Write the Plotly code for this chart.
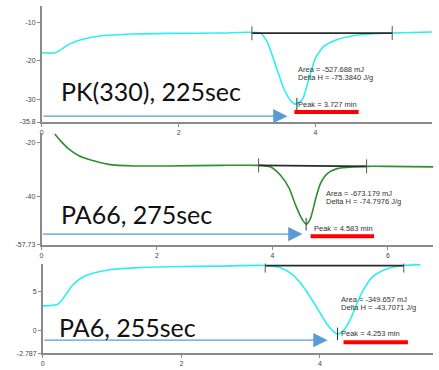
import plotly.graph_objects as go

# ---------------- data ----------------
# Panel 1: PK(330), 225sec  (time in min, heat flow)
t1 = [0.0, 0.2, 0.39, 0.58, 0.87, 1.35, 1.85, 2.62, 3.2, 3.30, 3.42, 3.54, 3.64, 3.71, 3.81, 3.90,
      4.0, 4.12, 4.31, 4.55, 4.80, 5.12, 5.70]
v1 = [-17.9, -17.9, -15.8, -14.5, -13.5, -13.06, -12.9, -12.8, -12.88, -15.36, -21.36, -27.34, -30.34,
      -31.18, -29.9, -24.77, -19.21, -16.24, -14.52, -13.49, -13.06, -12.8, -12.54]
base1_t = [3.07, 5.12]
base1_v = [-12.85, -12.8]

# Panel 2: PA66, 275sec
t2 = [0.23, 0.35, 0.47, 0.64, 0.87, 1.16, 1.61, 2.19, 3.11, 3.76, 3.97, 4.14, 4.29, 4.40, 4.52, 4.59,
      4.66, 4.75, 4.83, 4.95, 5.12, 5.41, 5.63, 5.98, 6.79]
v2 = [-17.0, -20.0, -22.46, -24.9, -26.7, -28.17, -28.75, -28.75, -28.53, -28.53, -29.1, -32.17, -37.0,
      -43.1, -48.53, -50.1, -47.9, -40.6, -35.2, -31.55, -29.73, -29.1, -28.9, -28.9, -29.1]
base2_t = [3.76, 5.63]
base2_v = [-28.55, -28.9]

# Panel 3: PA6, 255sec
t3 = [0.0, 0.22, 0.32, 0.42, 0.56, 0.75, 0.99, 1.33, 1.81, 2.57, 3.21, 3.43, 3.60, 3.77, 3.94, 4.10,
      4.22, 4.27, 4.34, 4.44, 4.54, 4.63, 4.77, 4.97, 5.21, 5.45]
v3 = [3.17, 3.38, 4.43, 5.67, 6.71, 7.34, 7.75, 7.96, 8.09, 8.18, 8.25, 7.96, 7.13, 5.46, 3.17, 0.88,
      -0.25, -0.37, 0.05, 1.50, 3.59, 5.25, 6.92, 7.84, 8.25, 8.37]
base3_t = [3.21, 5.21]
base3_v = [8.25, 8.25]

labels = ["PK(330), 225sec", "PA66, 275sec", "PA6, 255sec"]
peak_time = [3.727, 4.583, 4.253]
peak_value = [-31.18, -50.1, -0.37]
area_mj = ["-527.688", "-673.179", "-349.657"]
delta_h = ["-75.3840", "-74.7976", "-43.7071"]

y_tickvals = [[-10, -20, -30, -35.8], [-20, -40, -57.73], [5, 0, -2.787]]
y_ticktext = [["-10", "-20", "-30", "-35.8"], ["-20", "-40", "-57.73"], ["5", "0", "-2.787"]]
x_tickvals = [[0, 2, 4], [0, 2, 4, 6], [0, 2, 4]]

# ---------------- layout helpers ----------------
W, H = 439, 370
CYAN = "#2CEFEF"
GREEN = "#2F8F2F"
AXC = "#8a8a8a"
BLUE = "#5B9BD5"

def dx(p0, p1):
    return [p0 / W, p1 / W]

def dy(top, bot):
    return [1 - bot / H, 1 - top / H]

# pixel boxes per panel (left, right, top, bottom) and ranges
boxes = [(40, 432, 6, 123), (39.7, 433.3, 134, 247), (41, 433, 265.7, 356)]
xranges = [[0, 5.702], [0, 6.786], [0, 5.632]]
yranges = [[-35.8, -5.8], [-57.73, -16.64], [-2.787, 8.5]]

fig = go.Figure()

series = [(t1, v1, CYAN, base1_t, base1_v), (t2, v2, GREEN, base2_t, base2_v), (t3, v3, CYAN, base3_t, base3_v)]
for i, (t, v, col, bt, bv) in enumerate(series):
    xa = "x" if i == 0 else f"x{i+1}"
    ya = "y" if i == 0 else f"y{i+1}"
    fig.add_trace(go.Scatter(x=t, y=v, xaxis=xa, yaxis=ya, mode="lines",
                             line=dict(color=col, width=1.6, shape="spline", smoothing=0.6),
                             hoverinfo="skip"))
    fig.add_trace(go.Scatter(x=bt, y=bv, xaxis=xa, yaxis=ya, mode="lines+markers",
                             line=dict(color="#2a2a2a", width=1.8),
                             marker=dict(symbol="line-ns", size=10, line=dict(width=1, color="#555")),
                             hoverinfo="skip"))
    fig.add_trace(go.Scatter(x=[peak_time[i]], y=[peak_value[i]], xaxis=xa, yaxis=ya, mode="markers",
                             marker=dict(symbol="line-ns", size=9, line=dict(width=1, color="#333")),
                             hoverinfo="skip"))

layout = dict(width=W, height=H, autosize=False, margin=dict(l=0, r=0, t=0, b=0),
              paper_bgcolor="white", plot_bgcolor="white", showlegend=False)

for i in range(3):
    l, r, tp, bt = boxes[i]
    xk = "xaxis" if i == 0 else f"xaxis{i+1}"
    yk = "yaxis" if i == 0 else f"yaxis{i+1}"
    ya = "y" if i == 0 else f"y{i+1}"
    xa = "x" if i == 0 else f"x{i+1}"
    layout[xk] = dict(domain=dx(l, r), range=xranges[i], anchor=ya, showline=True, linecolor=AXC,
                      linewidth=1.5, ticks="outside", ticklen=3, tickcolor=AXC, tickvals=x_tickvals[i],
                      tickfont=dict(size=7, color="#444", family="Liberation Sans"),
                      showgrid=False, zeroline=False)
    layout[yk] = dict(domain=dy(tp, bt), range=yranges[i], anchor=xa, showline=True, linecolor=AXC,
                      linewidth=1.5, ticks="outside", ticklen=3, tickcolor=AXC,
                      tickvals=y_tickvals[i], ticktext=y_ticktext[i],
                      tickfont=dict(size=7, color="#444", family="Liberation Sans"),
                      showgrid=False, zeroline=False)

fig.update_layout(**layout)

# annotation positions (data coords per panel)
txt_pos = [  # area_x, area_y, dh_y, peak_x, peak_y, bar_x0, bar_x1, bar_y, arrow_y, arrow_tip
    (3.72, -22.2, -24.3, 3.72, -31.4, 3.69, 4.63, -33.2, -34.3, 3.59),
    (4.90, -38.8, -41.7, 4.69, -51.5, 4.66, 5.76, -54.5, -53.73, 4.52),
    (4.28, 3.96, 2.96, 4.28, -0.37, 4.34, 5.27, -1.41, -1.16, 4.11),
]
label_pos = [(57, 92), (57, 216), (55, 330)]
small = dict(size=7.5, color="#333", family="Liberation Sans")

for i in range(3):
    xa = "x" if i == 0 else f"x{i+1}"
    ya = "y" if i == 0 else f"y{i+1}"
    ax_, ay_, dhy, px_, py_, bx0, bx1, by, ary, tip = txt_pos[i]
    fig.add_annotation(x=ax_, y=ay_, xref=xa, yref=ya, text=f"Area = {area_mj[i]} mJ", showarrow=False,
                       xanchor="left", yanchor="middle", font=small)
    fig.add_annotation(x=ax_, y=dhy, xref=xa, yref=ya, text=f"Delta H = {delta_h[i]} J/g", showarrow=False,
                       xanchor="left", yanchor="middle", font=small)
    fig.add_annotation(x=px_, y=py_, xref=xa, yref=ya, text=f"Peak = {peak_time[i]} min", showarrow=False,
                       xanchor="left", yanchor="middle", font=small)
    fig.add_shape(type="line", x0=bx0, x1=bx1, y0=by, y1=by, xref=xa, yref=ya,
                  line=dict(color="#FF0000", width=4))
    fig.add_annotation(x=tip, y=ary, ax=0, ay=ary, xref=xa, yref=ya, axref=xa, ayref=ya, text="",
                       showarrow=True, arrowhead=2, arrowsize=2.2, arrowwidth=1.3, arrowcolor=BLUE)
    lx, ly = label_pos[i]
    fig.add_annotation(x=lx / W, y=1 - ly / H, xref="paper", yref="paper", text=labels[i], showarrow=False,
                       xanchor="left", yanchor="middle", font=dict(size=25, color="#111", family="Lato"))

fig.write_html("out.html", config={"displayModeBar": False},
               post_script="document.body.style.margin='0';document.body.style.overflow='hidden';")
